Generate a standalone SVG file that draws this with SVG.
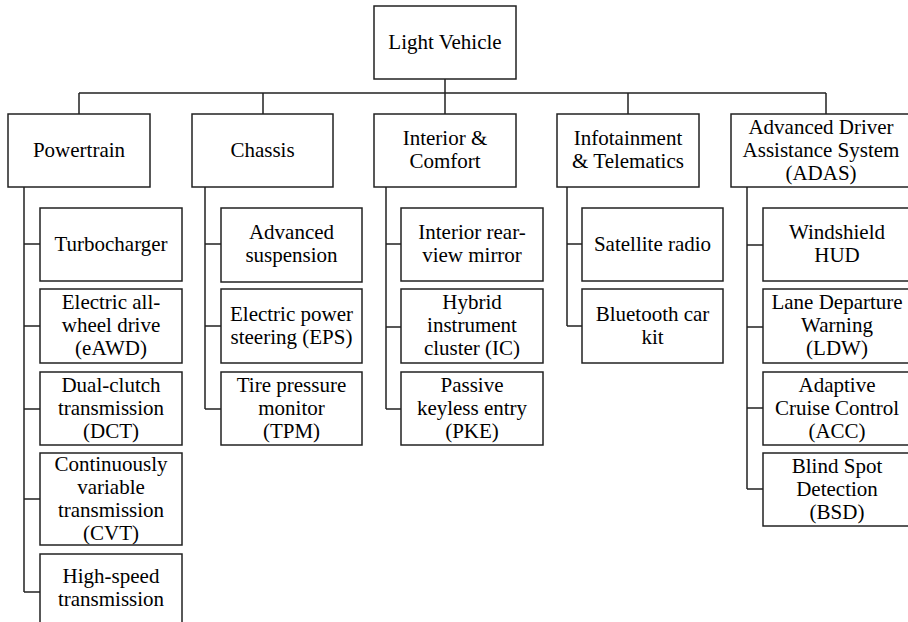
<svg xmlns="http://www.w3.org/2000/svg" width="908" height="622" viewBox="0 0 908 622">
<rect width="908" height="622" fill="#fff"/>
<g id="connectors" fill="none" stroke="#222" stroke-width="1.5">
<path d="M445 79V114M79 93H826M79 93V114M263 93V114M628 93V114M826 93V114"/>
<path d="M24 187V592M24 244H40M24 326H40M24 409H40M24 499H40M24 592H40"/>
<path d="M205 187V409M205 244H221M205 326H221M205 409H221"/>
<path d="M386 187V409M386 244H401M386 327H401M386 409H401"/>
<path d="M567 187V326M567 244H582M567 326H582"/>
<path d="M747 187V489M747 245H763M747 327H763M747 408H763M747 489H763"/>
</g>
<g id="root"><rect fill="#fff" stroke="#222" stroke-width="1.5" x="374" y="6" width="142" height="73"/><text font-family="Liberation Serif" font-size="30" text-anchor="middle" transform="translate(445 49) scale(0.7)">Light Vehicle</text></g>
<g id="powertrain"><rect fill="#fff" stroke="#222" stroke-width="1.5" x="8" y="114" width="142" height="73"/><text font-family="Liberation Serif" font-size="30" text-anchor="middle" transform="translate(79 157) scale(0.7)">Powertrain</text></g>
<g id="chassis"><rect fill="#fff" stroke="#222" stroke-width="1.5" x="192" y="114" width="141" height="73"/><text font-family="Liberation Serif" font-size="30" text-anchor="middle" transform="translate(262.5 157) scale(0.7)">Chassis</text></g>
<g id="interior"><rect fill="#fff" stroke="#222" stroke-width="1.5" x="374" y="114" width="142" height="73"/><text font-family="Liberation Serif" font-size="30" text-anchor="middle" transform="translate(445 145) scale(0.7)">Interior &amp;</text><text font-family="Liberation Serif" font-size="30" text-anchor="middle" transform="translate(445 168) scale(0.7)">Comfort</text></g>
<g id="infotainment"><rect fill="#fff" stroke="#222" stroke-width="1.5" x="557" y="114" width="142" height="73"/><text font-family="Liberation Serif" font-size="30" text-anchor="middle" transform="translate(628 145) scale(0.7)">Infotainment</text><text font-family="Liberation Serif" font-size="30" text-anchor="middle" transform="translate(628 168) scale(0.7)">&amp; Telematics</text></g>
<g id="adas"><rect fill="#fff" stroke="#222" stroke-width="1.5" x="731" y="114" width="181" height="73"/><text font-family="Liberation Serif" font-size="30" text-anchor="middle" transform="translate(821 133.5) scale(0.7)">Advanced Driver</text><text font-family="Liberation Serif" font-size="30" text-anchor="middle" transform="translate(821 156.5) scale(0.7)">Assistance System</text><text font-family="Liberation Serif" font-size="30" text-anchor="middle" transform="translate(821 179.5) scale(0.7)">(ADAS)</text></g>

<g id="turbo"><rect fill="#fff" stroke="#222" stroke-width="1.5" x="40" y="208" width="142" height="73"/><text font-family="Liberation Serif" font-size="30" text-anchor="middle" transform="translate(111 250.5) scale(0.7)">Turbocharger</text></g>
<g id="eawd"><rect fill="#fff" stroke="#222" stroke-width="1.5" x="40" y="289" width="142" height="74"/><text font-family="Liberation Serif" font-size="30" text-anchor="middle" transform="translate(111 309) scale(0.7)">Electric all-</text><text font-family="Liberation Serif" font-size="30" text-anchor="middle" transform="translate(111 332) scale(0.7)">wheel drive</text><text font-family="Liberation Serif" font-size="30" text-anchor="middle" transform="translate(111 355) scale(0.7)">(eAWD)</text></g>
<g id="dct"><rect fill="#fff" stroke="#222" stroke-width="1.5" x="40" y="372" width="142" height="73"/><text font-family="Liberation Serif" font-size="30" text-anchor="middle" transform="translate(111 391.5) scale(0.7)">Dual-clutch</text><text font-family="Liberation Serif" font-size="30" text-anchor="middle" transform="translate(111 414.5) scale(0.7)">transmission</text><text font-family="Liberation Serif" font-size="30" text-anchor="middle" transform="translate(111 437.5) scale(0.7)">(DCT)</text></g>
<g id="cvt"><rect fill="#fff" stroke="#222" stroke-width="1.5" x="40" y="453" width="142" height="92"/><text font-family="Liberation Serif" font-size="30" text-anchor="middle" transform="translate(111 470.5) scale(0.7)">Continuously</text><text font-family="Liberation Serif" font-size="30" text-anchor="middle" transform="translate(111 493.5) scale(0.7)">variable</text><text font-family="Liberation Serif" font-size="30" text-anchor="middle" transform="translate(111 516.5) scale(0.7)">transmission</text><text font-family="Liberation Serif" font-size="30" text-anchor="middle" transform="translate(111 539.5) scale(0.7)">(CVT)</text></g>
<g id="hst"><rect fill="#fff" stroke="#222" stroke-width="1.5" x="40" y="554" width="142" height="90"/><text font-family="Liberation Serif" font-size="30" text-anchor="middle" transform="translate(111 583) scale(0.7)">High-speed</text><text font-family="Liberation Serif" font-size="30" text-anchor="middle" transform="translate(111 606) scale(0.7)">transmission</text></g>

<g id="suspension"><rect fill="#fff" stroke="#222" stroke-width="1.5" x="221" y="208" width="141" height="74"/><text font-family="Liberation Serif" font-size="30" text-anchor="middle" transform="translate(291.5 239) scale(0.7)">Advanced</text><text font-family="Liberation Serif" font-size="30" text-anchor="middle" transform="translate(291.5 262) scale(0.7)">suspension</text></g>
<g id="eps"><rect fill="#fff" stroke="#222" stroke-width="1.5" x="221" y="289" width="141" height="74"/><text font-family="Liberation Serif" font-size="30" text-anchor="middle" transform="translate(291.5 320.5) scale(0.7)">Electric power</text><text font-family="Liberation Serif" font-size="30" text-anchor="middle" transform="translate(291.5 343.5) scale(0.7)">steering (EPS)</text></g>
<g id="tpm"><rect fill="#fff" stroke="#222" stroke-width="1.5" x="221" y="372" width="141" height="73"/><text font-family="Liberation Serif" font-size="30" text-anchor="middle" transform="translate(291.5 391.5) scale(0.7)">Tire pressure</text><text font-family="Liberation Serif" font-size="30" text-anchor="middle" transform="translate(291.5 414.5) scale(0.7)">monitor</text><text font-family="Liberation Serif" font-size="30" text-anchor="middle" transform="translate(291.5 437.5) scale(0.7)">(TPM)</text></g>

<g id="mirror"><rect fill="#fff" stroke="#222" stroke-width="1.5" x="401" y="208" width="142" height="73"/><text font-family="Liberation Serif" font-size="30" text-anchor="middle" transform="translate(472 239) scale(0.7)">Interior rear-</text><text font-family="Liberation Serif" font-size="30" text-anchor="middle" transform="translate(472 262) scale(0.7)">view mirror</text></g>
<g id="ic"><rect fill="#fff" stroke="#222" stroke-width="1.5" x="401" y="289" width="142" height="74"/><text font-family="Liberation Serif" font-size="30" text-anchor="middle" transform="translate(472 309) scale(0.7)">Hybrid</text><text font-family="Liberation Serif" font-size="30" text-anchor="middle" transform="translate(472 332) scale(0.7)">instrument</text><text font-family="Liberation Serif" font-size="30" text-anchor="middle" transform="translate(472 355) scale(0.7)">cluster (IC)</text></g>
<g id="pke"><rect fill="#fff" stroke="#222" stroke-width="1.5" x="401" y="372" width="142" height="73"/><text font-family="Liberation Serif" font-size="30" text-anchor="middle" transform="translate(472 391.5) scale(0.7)">Passive</text><text font-family="Liberation Serif" font-size="30" text-anchor="middle" transform="translate(472 414.5) scale(0.7)">keyless entry</text><text font-family="Liberation Serif" font-size="30" text-anchor="middle" transform="translate(472 437.5) scale(0.7)">(PKE)</text></g>

<g id="radio"><rect fill="#fff" stroke="#222" stroke-width="1.5" x="582" y="208" width="141" height="73"/><text font-family="Liberation Serif" font-size="30" text-anchor="middle" transform="translate(652.5 250.5) scale(0.7)">Satellite radio</text></g>
<g id="bluetooth"><rect fill="#fff" stroke="#222" stroke-width="1.5" x="582" y="289" width="141" height="74"/><text font-family="Liberation Serif" font-size="30" text-anchor="middle" transform="translate(652.5 320.5) scale(0.7)">Bluetooth car</text><text font-family="Liberation Serif" font-size="30" text-anchor="middle" transform="translate(652.5 343.5) scale(0.7)">kit</text></g>

<g id="hud"><rect fill="#fff" stroke="#222" stroke-width="1.5" x="763" y="208" width="148" height="73"/><text font-family="Liberation Serif" font-size="30" text-anchor="middle" transform="translate(837 239) scale(0.7)">Windshield</text><text font-family="Liberation Serif" font-size="30" text-anchor="middle" transform="translate(837 262) scale(0.7)">HUD</text></g>
<g id="ldw"><rect fill="#fff" stroke="#222" stroke-width="1.5" x="763" y="289" width="148" height="74"/><text font-family="Liberation Serif" font-size="30" text-anchor="middle" transform="translate(837 309) scale(0.7)">Lane Departure</text><text font-family="Liberation Serif" font-size="30" text-anchor="middle" transform="translate(837 332) scale(0.7)">Warning</text><text font-family="Liberation Serif" font-size="30" text-anchor="middle" transform="translate(837 355) scale(0.7)">(LDW)</text></g>
<g id="acc"><rect fill="#fff" stroke="#222" stroke-width="1.5" x="763" y="372" width="148" height="73"/><text font-family="Liberation Serif" font-size="30" text-anchor="middle" transform="translate(837 391.5) scale(0.7)">Adaptive</text><text font-family="Liberation Serif" font-size="30" text-anchor="middle" transform="translate(837 414.5) scale(0.7)">Cruise Control</text><text font-family="Liberation Serif" font-size="30" text-anchor="middle" transform="translate(837 437.5) scale(0.7)">(ACC)</text></g>
<g id="bsd"><rect fill="#fff" stroke="#222" stroke-width="1.5" x="763" y="453" width="148" height="73"/><text font-family="Liberation Serif" font-size="30" text-anchor="middle" transform="translate(837 472.5) scale(0.7)">Blind Spot</text><text font-family="Liberation Serif" font-size="30" text-anchor="middle" transform="translate(837 495.5) scale(0.7)">Detection</text><text font-family="Liberation Serif" font-size="30" text-anchor="middle" transform="translate(837 518.5) scale(0.7)">(BSD)</text></g>
</svg>
